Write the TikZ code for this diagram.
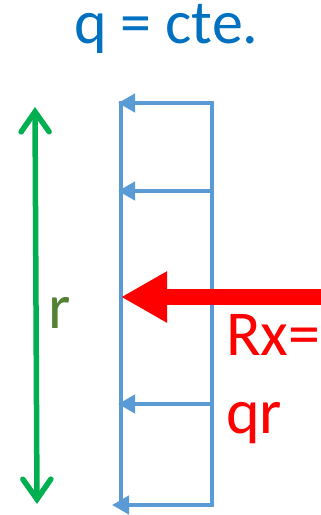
\documentclass[tikz,border=0pt]{standalone}
\usepackage{fontspec}
\setmainfont{Carlito}
\usetikzlibrary{arrows.meta}
\definecolor{qblue}{HTML}{0070C0}
\definecolor{lblue}{HTML}{5B9BD5}
\definecolor{rgreen}{HTML}{00B050}
\definecolor{dgreen}{HTML}{548235}
\definecolor{rred}{HTML}{FF0000}
\tikzset{
  bluearrow/.style={draw=lblue, line width=4.6pt, -{Triangle[length=17pt,width=18pt]}},
  blueline/.style={draw=lblue, line width=4.6pt},
  bigtext/.style={font=\fontsize{64}{64}\selectfont, inner sep=0pt, anchor=base west, text height=40pt, text depth=12pt},
}
\begin{document}
\begin{tikzpicture}[x=1pt,y=-1pt]
\useasboundingbox (0,0) rectangle (321,515);
% coordinates
\coordinate (tl) at (121,101);
\coordinate (bl) at (121,507);
\coordinate (tr) at (212,101);
\coordinate (br) at (212,507);
\coordinate (a1r) at (214,103); \coordinate (a1l) at (118,103);
\coordinate (a2r) at (214,191); \coordinate (a2l) at (118,191);
\coordinate (a4r) at (214,404); \coordinate (a4l) at (118,404);
\coordinate (a5r) at (214,505); \coordinate (a5l) at (112,505);
\coordinate (rs) at (321,297); \coordinate (re) at (121,297);
\coordinate (gt) at (35,107); \coordinate (gb) at (37,504);
% blue load
\draw[blueline] (tl) -- (bl);
\draw[blueline] (tr) -- (br);
\draw[bluearrow] (a1r) -- (a1l);
\draw[bluearrow] (a2r) -- (a2l);
\draw[bluearrow] (a4r) -- (a4l);
\draw[bluearrow] (a5r) -- (a5l);
% resultant
\draw[draw=rred, line width=16pt, -{Triangle[length=46pt,width=48pt]}] (rs) -- (re);
% dimension
\draw[draw=rgreen, line width=5.5pt, line cap=round, {Straight Barb[length=20pt,width=28pt,line cap=round]}-{Straight Barb[length=20pt,width=28pt,line cap=round]}] (gt) -- (gb);
% texts
\node[bigtext, text=qblue, font=\fontsize{62}{62}\selectfont, text height=34pt] (title) at (74,43) {q = cte.};
\node[bigtext, text=dgreen] (rlab) at (48,328) {r};
\node[bigtext, text=rred] (rx) at (226,355) {Rx=};
\node[bigtext, text=rred] (qr) at (226,433) {qr};
\end{tikzpicture}
\end{document}
